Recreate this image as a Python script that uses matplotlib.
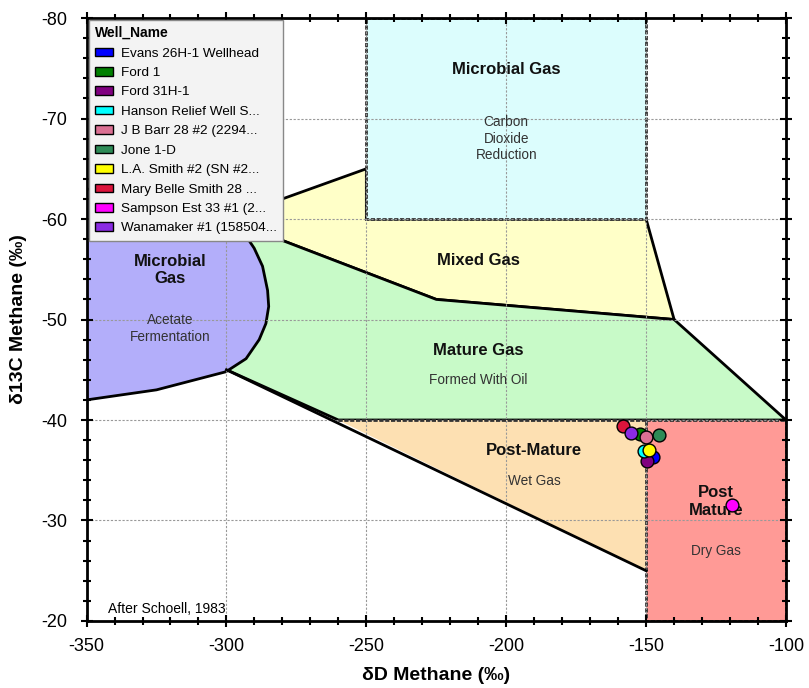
import matplotlib.pyplot as plt
from matplotlib.patches import Polygon, Patch
from matplotlib.ticker import MultipleLocator

plt.rcParams['font.family'] = ['Liberation Sans', 'DejaVu Sans']
plt.rcParams['axes.unicode_minus'] = False

# well samples: deuterium and carbon isotope ratios of methane
wells = ['Evans 26H-1 Wellhead', 'Ford 1', 'Ford 31H-1', 'Hanson Relief Well S...',
         'J B Barr 28 #2 (2294...', 'Jone 1-D', 'L.A. Smith #2 (SN #2...',
         'Mary Belle Smith 28 ...', 'Sampson Est 33 #1 (2...', 'Wanamaker #1 (158504...']
well_colors = ['#0000ff', '#008000', '#800080', '#00ffff', '#db7093',
               '#2e8b57', '#ffff00', '#dc143c', '#ff00ff', '#8a2be2']
dD = [-147.6, -152.1, -149.6, -150.8, -149.9, -145.4, -149.0, -158.3, -119.2, -155.3]
d13C = [-36.3, -38.6, -35.9, -36.9, -38.3, -38.5, -37.0, -39.4, -31.5, -38.7]

# Schoell (1983) genetic fields, vertices as (dD, d13C)
co2_reduction = [(-250, -80), (-150, -80), (-150, -60), (-250, -60)]
mixed_gas = [(-300, -60), (-250, -65), (-250, -60), (-150, -60), (-140, -50), (-225, -52)]
mature_gas = [(-300, -60), (-225, -52), (-140, -50), (-100, -40), (-260, -40), (-300, -45)]
wet_gas = [(-260, -40), (-150, -40), (-150, -25)]
dry_gas = [(-150, -40), (-100, -40), (-100, -20), (-150, -20)]
acetate = [(-350, -42), (-325, -43), (-300.2, -44.8), (-293, -46.1), (-288.3, -48.0),
           (-285.9, -49.6), (-284.9, -51.3), (-285.3, -52.9), (-287.1, -55.3),
           (-290.1, -57.1), (-293, -58.3), (-300, -60.5), (-350, -63)]

fig = plt.figure(figsize=(8.09, 6.88), dpi=100)
ax = fig.add_axes([0.107, 0.0974, 0.8646, 0.8764])

solid = dict(edgecolor='black', linewidth=2, joinstyle='miter')
dotted = dict(edgecolor='#333333', linewidth=2, linestyle=(0, (1.5, 0.6)))

ax.add_patch(Polygon(mixed_gas, closed=True, facecolor='#ffffc8', zorder=1, **solid))
ax.add_patch(Polygon(mature_gas, closed=True, facecolor='#c8fac8', zorder=1, **solid))
ax.add_patch(Polygon(wet_gas, closed=True, facecolor='#fde0b2', edgecolor='none', zorder=1))
ax.add_patch(Polygon(dry_gas, closed=True, facecolor='#ff9a96', zorder=1.2, **dotted))
ax.add_patch(Polygon(co2_reduction, closed=True, facecolor='#dcfdfd', zorder=1.2, **dotted))
ax.add_patch(Polygon(acetate, closed=True, facecolor='#b3aefa', zorder=1.3, **solid))
# the wet gas lower edge runs on from the mature gas field
ax.plot([-300, -150], [-45, -25], color='black', lw=2, zorder=3)
ax.plot([-260, -150], [-40, -40], color='#333333', lw=2, ls=(0, (1.5, 0.6)), zorder=3)

ax.grid(True, which='major', color='#999999', linestyle=(0, (2, 1.5)), linewidth=0.8, zorder=2)
ax.set_axisbelow(False)

for x, y, c in zip(dD, d13C, well_colors):
    ax.scatter(x, y, s=85, color=c, edgecolor='black', linewidth=1, zorder=5)

bold = dict(ha='center', va='center', fontsize=12, fontweight='bold', color='#111111', zorder=4)
small = dict(ha='center', va='center', fontsize=9.8, color='#333333', zorder=4)
ax.text(-200, -74.9, 'Microbial Gas', **bold)
ax.text(-200, -68, 'Carbon\nDioxide\nReduction', linespacing=1.2, **small)
ax.text(-210, -55.9, 'Mixed Gas', **bold)
ax.text(-320, -54.9, 'Microbial\nGas', linespacing=1.2, **bold)
ax.text(-320, -49.1, 'Acetate\nFermentation', linespacing=1.2, **small)
ax.text(-210, -46.9, 'Mature Gas', **bold)
ax.text(-210, -44, 'Formed With Oil', **small)
ax.text(-190, -37, 'Post-Mature', **bold)
ax.text(-190, -33.9, 'Wet Gas', **small)
ax.text(-125, -31.9, 'Post\nMature', linespacing=1.2, **bold)
ax.text(-125, -27, 'Dry Gas', **small)
ax.text(-342.5, -21.2, 'After Schoell, 1983', ha='left', va='center', fontsize=10, zorder=4)

ax.set_xlim(-350, -100)
ax.set_ylim(-20, -80)
ax.xaxis.set_major_locator(MultipleLocator(50))
ax.xaxis.set_minor_locator(MultipleLocator(10))
ax.yaxis.set_major_locator(MultipleLocator(10))
ax.yaxis.set_minor_locator(MultipleLocator(2))
ax.tick_params(which='both', top=True, right=True, labelsize=13, width=1.5)
ax.tick_params(axis='x', which='both', bottom=True, direction='inout')
ax.tick_params(axis='y', which='both', left=True, direction='inout')
ax.tick_params(which='major', length=8)
ax.tick_params(which='minor', length=6)
ax.tick_params(axis='x', which='major', pad=8)
ax.tick_params(axis='y', which='major', pad=10)
for side in ['top', 'right', 'bottom', 'left']:
    ax.spines[side].set_linewidth(2)
    ax.spines[side].set_zorder(6)

ax.set_xlabel('δD Methane (‰)', fontsize=14, fontweight='bold', labelpad=9)
ax.set_ylabel('δ13C Methane (‰)', fontsize=14, fontweight='bold', labelpad=10)

handles = [Patch(facecolor=c, edgecolor='black', linewidth=1) for c in well_colors]
leg = ax.legend(handles, wells, title='Well_Name', loc='upper left', fontsize=9.7,
                title_fontproperties={'weight': 'bold', 'size': 10}, alignment='left',
                fancybox=False, framealpha=1, facecolor='#f3f3f3', edgecolor='#888888',
                borderaxespad=0.15, handlelength=1.35, handleheight=0.6, handletextpad=0.6,
                labelspacing=0.55, borderpad=0.45)
leg.set_zorder(7)

fig.savefig('out.png', dpi=100)
